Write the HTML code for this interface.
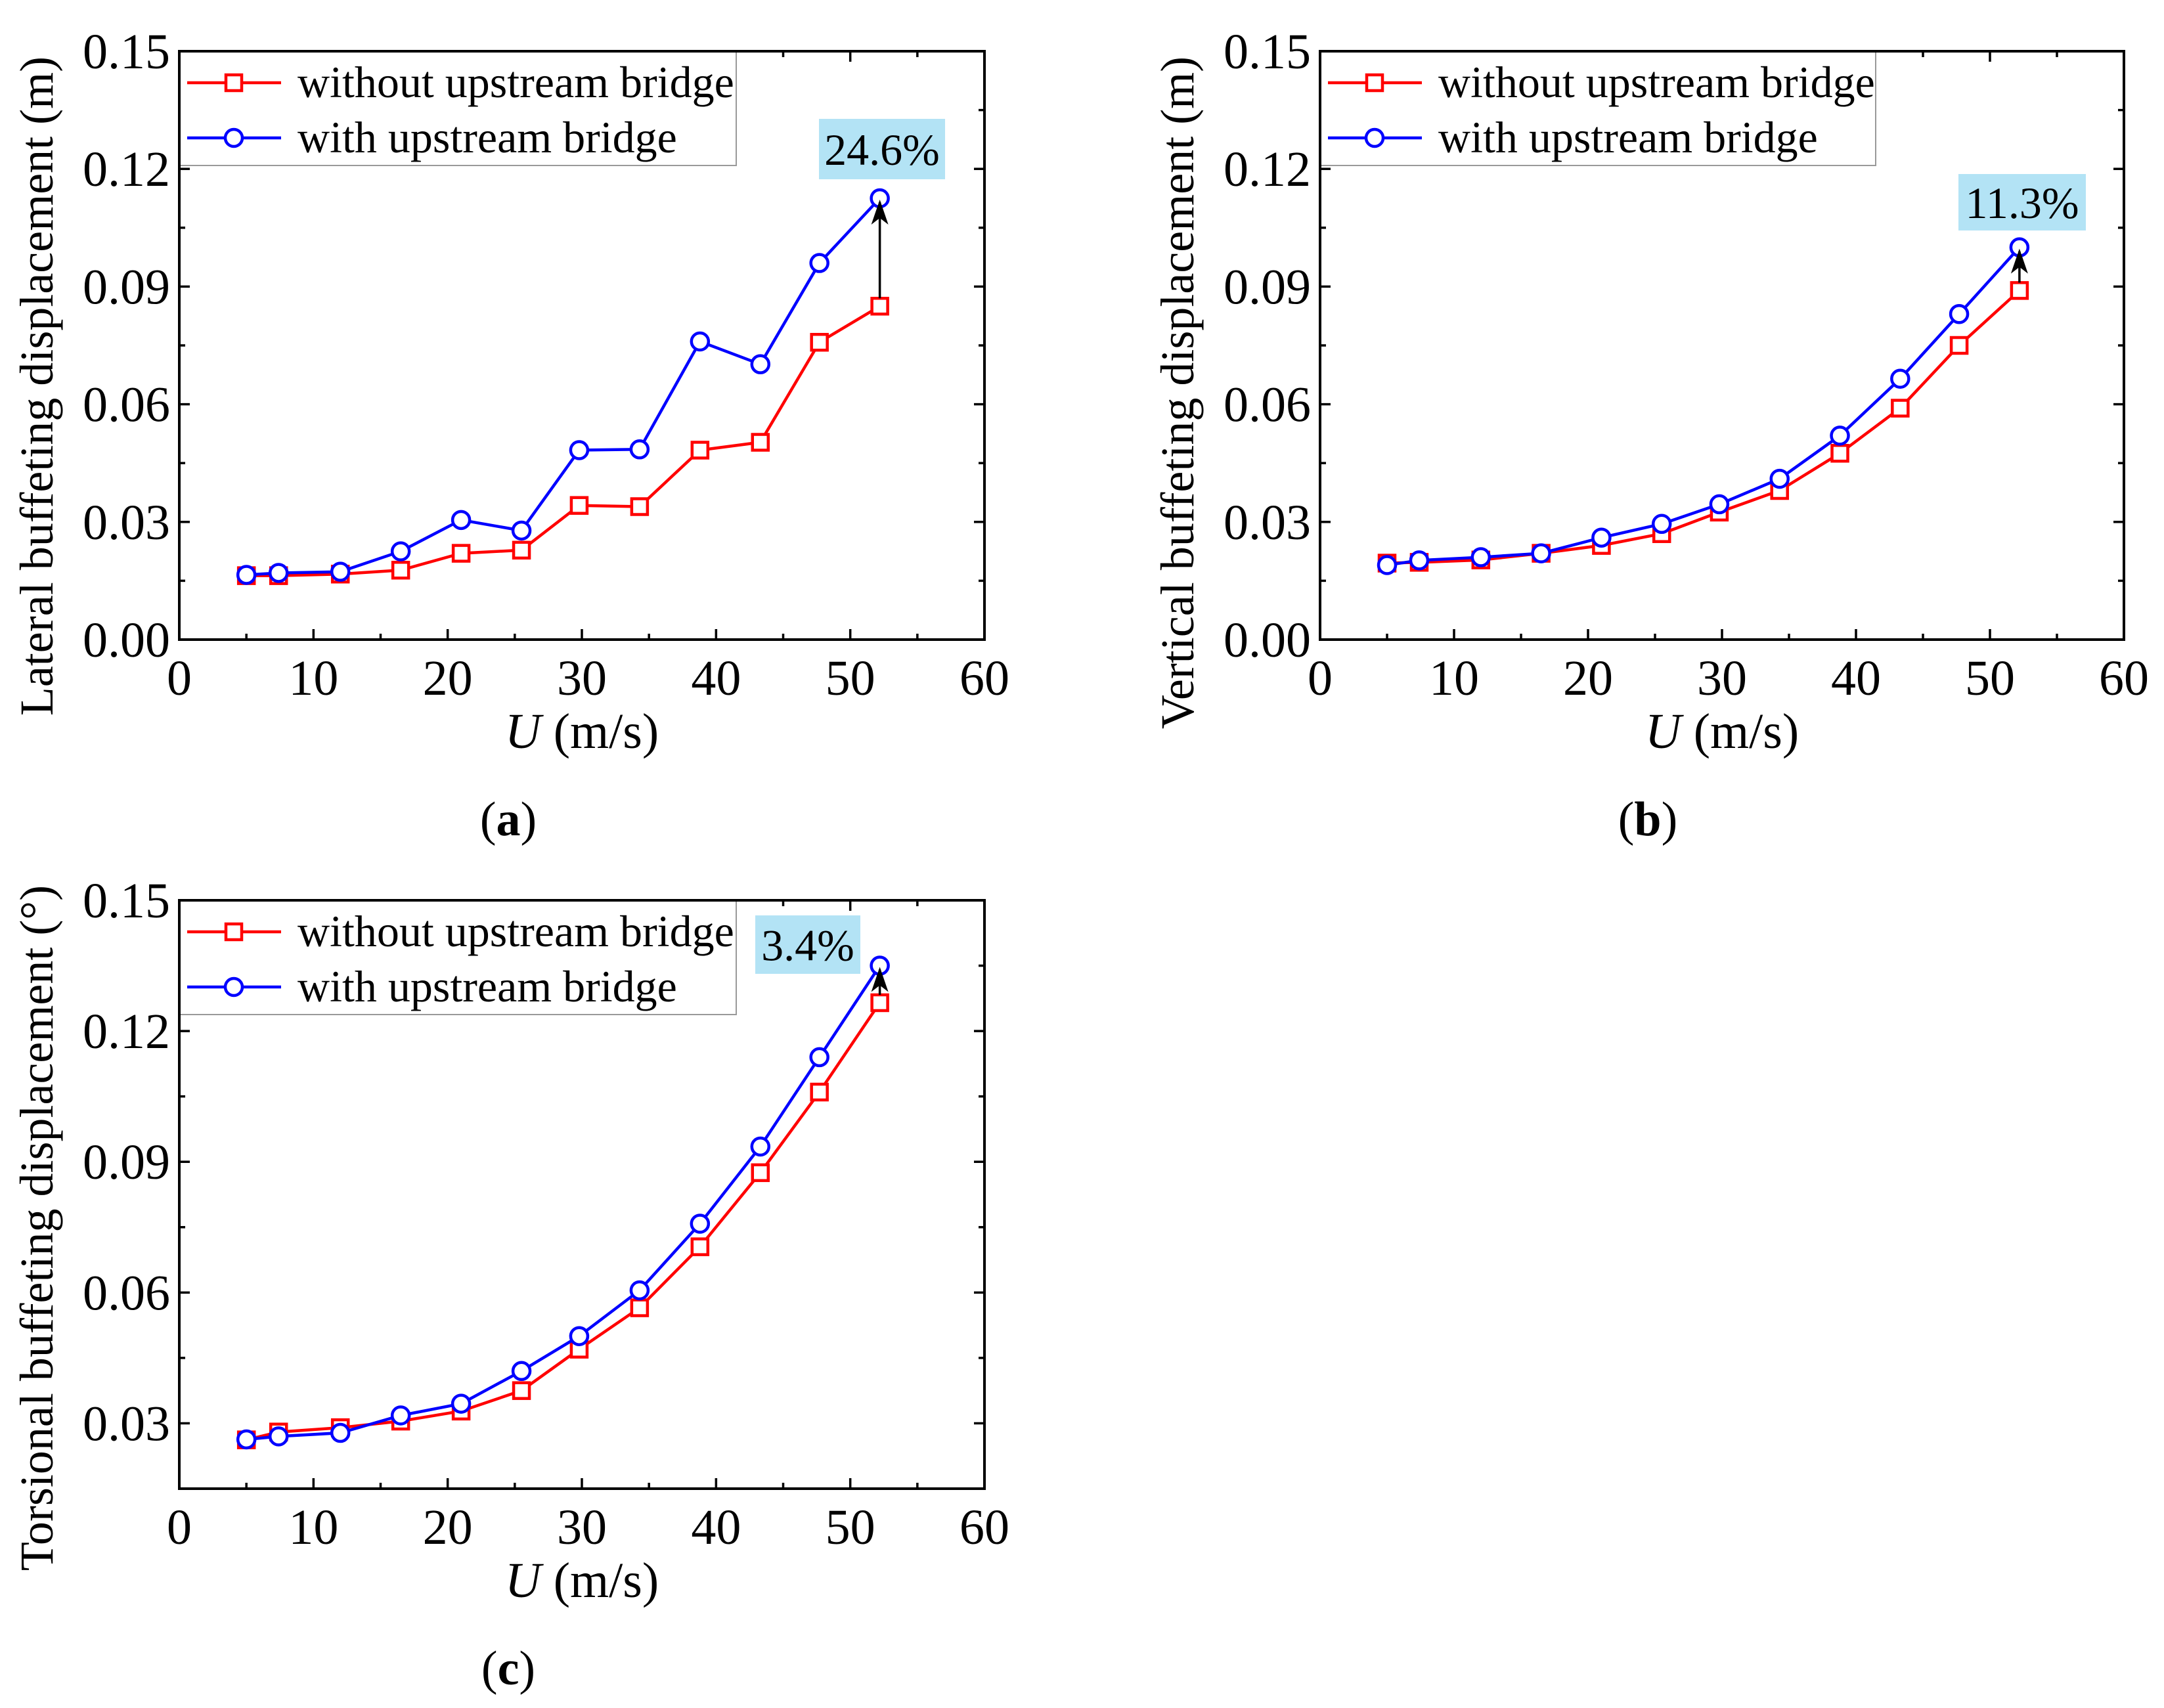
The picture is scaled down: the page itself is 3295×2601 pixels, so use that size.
<!DOCTYPE html>
<html><head><meta charset="utf-8">
<style>
html,body{margin:0;padding:0;background:#fff;}
svg{display:block;font-family:"Liberation Serif",serif;}
</style></head>
<body>
<svg id="fig" width="3295" height="2601" viewBox="0 0 3295 2601" xmlns="http://www.w3.org/2000/svg"></svg>
<script>
const speeds = [5, 7.4, 12, 16.5, 21, 25.5, 29.8, 34.3, 38.8, 43.3, 47.7, 52.2];
const latWithout = [0.0163,0.0163,0.0167,0.0177,0.0220,0.0228,0.0342,0.0339,0.0483,0.0503,0.0758,0.0850];
const latWith    = [0.0165,0.0170,0.0173,0.0225,0.0305,0.0278,0.0483,0.0485,0.0760,0.0702,0.0960,0.1125];
const verWithout = [0.0195,0.0197,0.0203,0.0220,0.0240,0.0270,0.0325,0.0380,0.0475,0.0590,0.0750,0.0890];
const verWith    = [0.0190,0.0202,0.0210,0.0220,0.0260,0.0295,0.0345,0.0410,0.0520,0.0665,0.0830,0.1000];
const torWithout = [0.0262,0.0280,0.0290,0.0305,0.0328,0.0375,0.0470,0.0565,0.0705,0.0875,0.1060,0.1265];
const torWith    = [0.0263,0.0270,0.0278,0.0318,0.0345,0.0420,0.0500,0.0605,0.0758,0.0935,0.1140,0.1350];
const xTicks = [0,10,20,30,40,50,60];
const yTicksAB = ["0.00","0.03","0.06","0.09","0.12","0.15"];
const yTicksC = ["0.03","0.06","0.09","0.12","0.15"];
const pctLabels = ["24.6%","11.3%","3.4%"];

const NS="http://www.w3.org/2000/svg";
const svg=document.getElementById('fig');
function mk(tag,attrs,parent){const e=document.createElementNS(NS,tag);for(const k in attrs)e.setAttribute(k,attrs[k]);(parent||svg).appendChild(e);return e;}

function panel(o){
  const g=mk('g',{});
  
  
  const sx=v=>o.L+(v-0)/(60-0)*(o.R-o.L);
  const sy=v=>o.B-(v-o.ymin)/(0.15-o.ymin)*(o.B-o.T);
  for(let v=0;v<=60;v+=5){
    const len=(v%10===0)?16:9;const x=sx(v);
    mk('line',{x1:x,y1:o.B,x2:x,y2:o.B-len,stroke:'#000','stroke-width':3.5},g);
    mk('line',{x1:x,y1:o.T,x2:x,y2:o.T+len,stroke:'#000','stroke-width':3.5},g);
  }
  for(let v=o.ymin;v<=0.1501;v+=0.015){
    const major=Math.round(v/0.015)%2===0;const len=major?16:9;const y=sy(v);
    mk('line',{x1:o.L,y1:y,x2:o.L+len,y2:y,stroke:'#000','stroke-width':3.5},g);
    mk('line',{x1:o.R,y1:y,x2:o.R-len,y2:y,stroke:'#000','stroke-width':3.5},g);
  }
  xTicks.forEach(v=>{const t=mk('text',{x:sx(v),y:o.B+84,'font-size':76,'text-anchor':'middle'},g);t.textContent=v;
    
    });
  o.yt.forEach(s=>{const t=mk('text',{x:o.L-14,y:sy(parseFloat(s))+26,'font-size':76,'text-anchor':'end'},g);t.textContent=s;
    
    });
  const xt=mk('text',{x:(o.L+o.R)/2,y:o.B+165,'font-size':76,'text-anchor':'middle'},g);
  xt.innerHTML='<tspan font-style="italic">U</tspan> (m/s)';
  
  
  const yt=mk('text',{x:0,y:0,'font-size':72,'text-anchor':'middle',transform:`translate(${o.ytx},${o.yty}) rotate(-90)`},g);
  yt.textContent=o.ytitle;
  
  
  function series(vals,color,marker,nm){
    const pts=speeds.map((s,i)=>sx(s)+','+sy(vals[i])).join(' ');
    const pl=mk('polyline',{points:pts,fill:'none',stroke:color,'stroke-width':4.5},g);
    
    
    speeds.forEach((s,i)=>{
      let m;
      if(marker==='sq') m=mk('rect',{x:sx(s)-12,y:sy(vals[i])-12,width:24,height:24,fill:'#fff',stroke:color,'stroke-width':4.5},g);
      else m=mk('circle',{cx:sx(s),cy:sy(vals[i]),r:13,fill:'#fff',stroke:color,'stroke-width':4.5},g);
      
      
    });
  }
  series(o.d1,'#ff0000','sq','without-upstream');
  series(o.d2,'#0000ff','ci','with-upstream');
  const ax=sx(speeds[speeds.length-1]);
  const y1=sy(o.d1[o.d1.length-1]), y2=sy(o.d2[o.d2.length-1]);
  const ar=mk('line',{x1:ax,y1:y1-12,x2:ax,y2:y2+6,stroke:'#000','stroke-width':3.5},g);
  
  
  mk('path',{d:`M${ax},${y2+2} L${ax-13},${y2+40} L${ax},${y2+30} L${ax+13},${y2+40} Z`,fill:'#000'},g);
  const ab=mk('rect',{x:o.ann[0],y:o.ann[1],width:o.ann[2],height:o.ann[3],fill:'#b3e3f5'},g);
  
  
  const at=mk('text',{x:o.ann[0]+o.ann[2]/2,y:o.ann[1]+o.ann[3]/2+24,'font-size':68,'text-anchor':'middle'},g);
  at.textContent=o.pct;
  
  
  const lg=mk('g',{},g);
  
  
  mk('rect',{x:o.L,y:o.T,width:o.legW,height:174,fill:'#fff',stroke:'#999','stroke-width':2},lg);
  [[ '#ff0000','sq','without upstream bridge'],['#0000ff','ci','with upstream bridge']].forEach((e,i)=>{
    const y=o.T+48+i*84;
    mk('line',{x1:o.L+12,y1:y,x2:o.L+155,y2:y,stroke:e[0],'stroke-width':4.5},lg);
    if(e[1]==='sq') mk('rect',{x:o.L+71,y:y-12,width:24,height:24,fill:'#fff',stroke:e[0],'stroke-width':4.5},lg);
    else mk('circle',{cx:o.L+83,cy:y,r:13,fill:'#fff',stroke:e[0],'stroke-width':4.5},lg);
    const t=mk('text',{x:o.L+180,y:y+22,'font-size':68},lg);t.textContent=e[2];
    
    
  });
  mk('rect',{x:o.L,y:o.T,width:o.R-o.L,height:o.B-o.T,fill:'none',stroke:'#000','stroke-width':4},g);
  const sl=mk('text',{x:o.lab[0],y:o.lab[1],'font-size':74,'text-anchor':'middle'},g);
  sl.innerHTML='(<tspan font-weight="bold">'+o.letter+'</tspan>)';
  
  
}
panel({name:'panel-a-lateral',L:273,R:1499,T:78,B:974,ymin:0,yt:yTicksAB,d1:latWithout,d2:latWith,
  ytitle:'Lateral buffeting displacement (m)',ytx:80,yty:588,ann:[1247,181,192,92],pct:pctLabels[0],legW:848,lab:[774,1272],letter:'a'});
panel({name:'panel-b-vertical',L:2010,R:3234,T:78,B:974,ymin:0,yt:yTicksAB,d1:verWithout,d2:verWith,
  ytitle:'Vertical buffeting displacement (m)',ytx:1817,yty:598,ann:[2982,265,194,86],pct:pctLabels[1],legW:846,lab:[2509,1272],letter:'b'});
panel({name:'panel-c-torsional',L:273,R:1499,T:1371,B:2267,ymin:0.015,yt:yTicksC,d1:torWithout,d2:torWith,
  ytitle:'Torsional buffeting displacement (°)',ytx:80,yty:1870,ann:[1150,1394,160,89],pct:pctLabels[2],legW:848,lab:[774,2565],letter:'c'});
</script>
</body></html>
